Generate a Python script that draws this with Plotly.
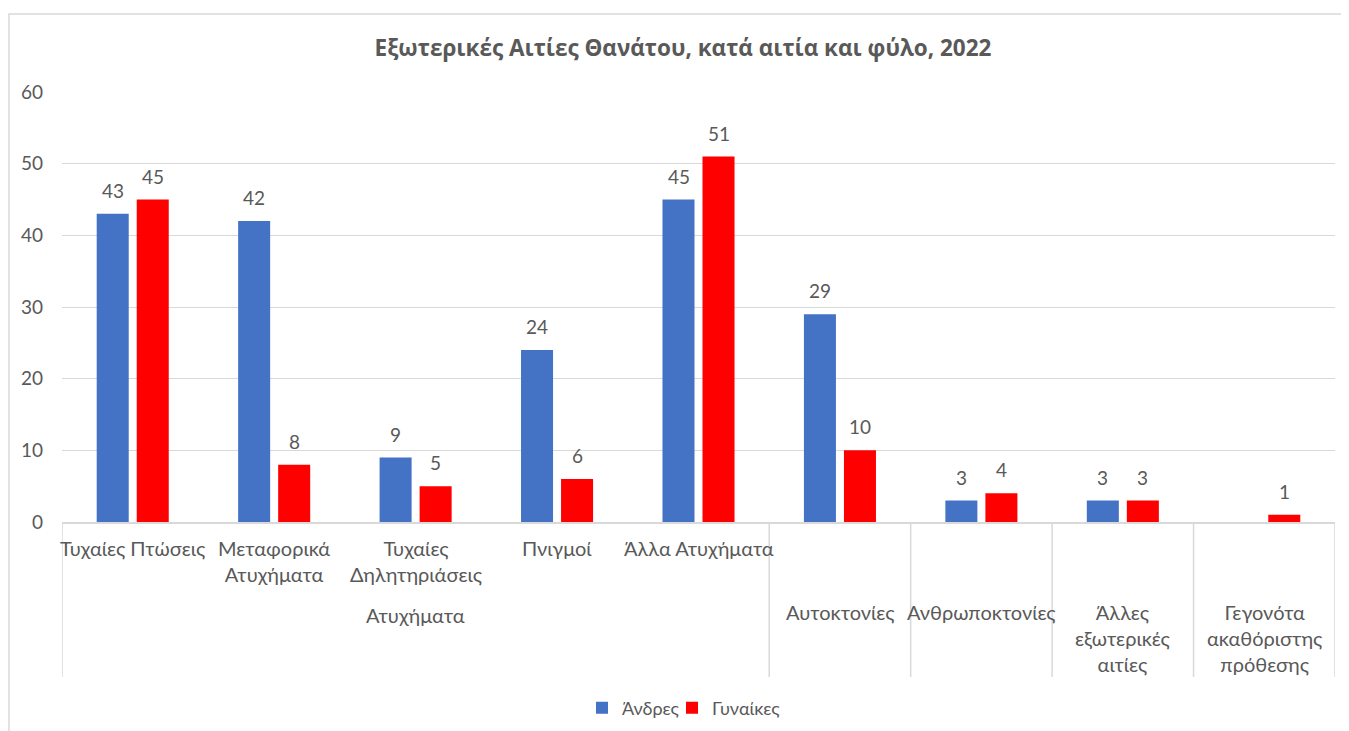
import plotly.graph_objects as go

categories = ["Τυχαίες Πτώσεις", "Μεταφορικά<br>Ατυχήματα", "Τυχαίες<br>Δηλητηριάσεις",
              "Πνιγμοί", "Άλλα Ατυχήματα", "Αυτοκτονίες", "Ανθρωποκτονίες",
              "Άλλες<br>εξωτερικές<br>αιτίες", "Γεγονότα<br>ακαθόριστης<br>πρόθεσης"]
# group label for categories (None = category shown at outer level)
groups = ["Ατυχήματα"] * 5 + [None] * 4
men = [43, 42, 9, 24, 45, 29, 3, 3, None]
women = [45, 8, 5, 6, 51, 10, 4, 3, 1]
y_ticks = [0, 10, 20, 30, 40, 50, 60]

FONT = "Lato, 'Open Sans', sans-serif"
TFONT = "'Open Sans', sans-serif"
TXT = "#595959"
GRID = "#D9D9D9"
BLUE = "#4472C4"
RED = "#FF0000"

# page has 8px body margin: figure origin at (8, 8)
W, H = 1341, 723
OX, OY = 8, 8
PL, PR, PT, PB = 62, 1335, 92, 522  # plot area in page px
PH = PB - PT
PW = PR - PL

def py(px_below):
    return -px_below / PH

def pxp(page_x):
    return (page_x - PL) / PW

x = list(range(len(categories)))
fig = go.Figure()
fig.add_trace(go.Bar(x=x, y=men, name="Άνδρες", legend="legend", showlegend=True,
                     marker=dict(color=BLUE, line=dict(width=0))))
fig.add_trace(go.Bar(x=x, y=women, name="Γυναίκες", legend="legend2", showlegend=True,
                     marker=dict(color=RED, line=dict(width=0))))

ann = []
for vals, dx in ((men, -20), (women, 20)):
    for i, v in enumerate(vals):
        if v is None:
            continue
        ann.append(dict(x=i, y=v, xref="x", yref="y", text=str(v), showarrow=False,
                        xshift=dx, yshift=10, yanchor="bottom",
                        font=dict(family=FONT, size=19, color=TXT)))

LBL = 20
for i, c in enumerate(categories):
    top = 12 if groups[i] is not None else 76
    ann.append(dict(x=i, y=py(top), xref="x", yref="paper", text=c, showarrow=False,
                    yanchor="top", font=dict(family=FONT, size=LBL, color=TXT)))
seen = {}
for i, g in enumerate(groups):
    if g is not None:
        seen.setdefault(g, []).append(i)
for g, idx in seen.items():
    ann.append(dict(x=(idx[0] + idx[-1]) / 2, y=py(79), xref="x", yref="paper", text=g,
                    showarrow=False, yanchor="top", font=dict(family=FONT, size=LBL, color=TXT)))

shapes = []
sep_positions = [-0.5]
for g, idx in seen.items():
    sep_positions.append(idx[-1] + 0.5)
for i, g in enumerate(groups):
    if g is None:
        sep_positions.append(i + 0.5)
for sx in sep_positions:
    shapes.append(dict(type="line", xref="x", yref="paper", x0=sx, x1=sx, y0=0, y1=py(155),
                       line=dict(color=GRID, width=1.5)))
# chart outer border (left edge near page x=6, top at page y=14)
shapes.append(dict(type="rect", xref="paper", yref="paper", x0=pxp(9), x1=1.03,
                   y0=py(240), y1=(PB - 14) / PH, line=dict(color=GRID, width=1.5),
                   fillcolor="rgba(0,0,0,0)", layer="below"))

leg_common = dict(orientation="h", xanchor="left", y=py(186), yanchor="middle",
                  font=dict(family=FONT, size=18, color=TXT), itemwidth=30,
                  bgcolor="rgba(0,0,0,0)", visible=True)

fig.update_layout(
    width=W, height=H, showlegend=True,
    margin=dict(l=PL - OX, r=OX + W - PR, t=PT - OY, b=OY + H - PB, autoexpand=False),
    paper_bgcolor="white", plot_bgcolor="white",
    barmode="group", bargap=0.434, bargroupgap=0.2,
    title=dict(text="<b>Εξωτερικές Αιτίες Θανάτου, κατά αιτία και φύλο, 2022</b>",
               x=(683 - OX) / W, xanchor="center", y=1 - (48 - OY) / H, yanchor="middle",
               font=dict(family=TFONT, size=22.5, color=TXT)),
    font=dict(family=FONT, size=19, color=TXT),
    xaxis=dict(range=[-0.5, len(categories) - 0.5], showticklabels=False, showgrid=False,
               zeroline=False, showline=True, linecolor=GRID, linewidth=1.5, ticks="",
               fixedrange=True),
    yaxis=dict(range=[0, 60], tickvals=y_ticks, showgrid=True, gridcolor=GRID, gridwidth=1,
               zeroline=False, showline=False, ticks="", ticklabelstandoff=18,
               tickfont=dict(family=FONT, size=19, color=TXT)),
    legend=dict(x=pxp(582), **leg_common),
    legend2=dict(x=pxp(672), **leg_common),
    annotations=ann, shapes=shapes,
)

fig.write_html("out.html")
